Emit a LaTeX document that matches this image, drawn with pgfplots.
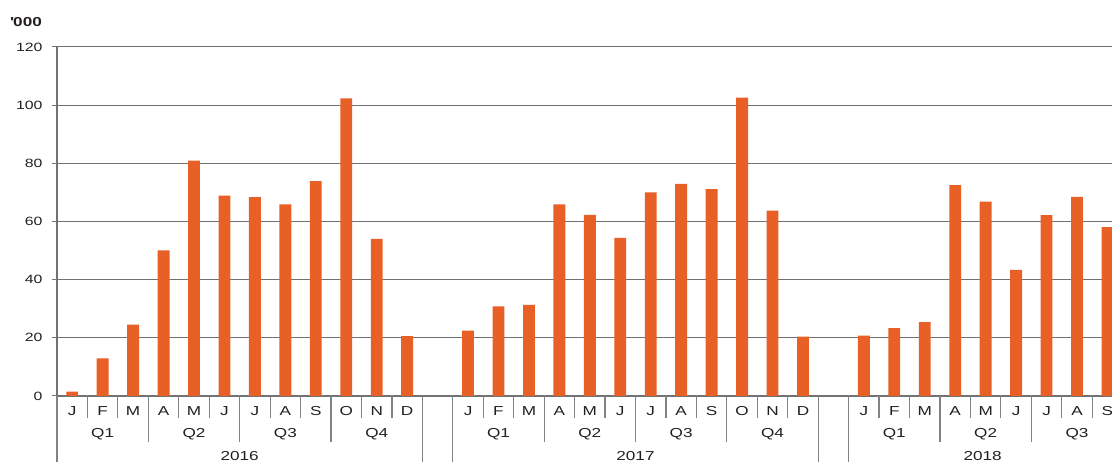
\documentclass[border=0pt]{standalone}
\usepackage{fontspec}
\setmainfont{Liberation Sans}[FakeStretch=1.32]
\usepackage{pgfplots}
\pgfplotsset{compat=1.18}
\definecolor{barorange}{RGB}{232,96,38}
\definecolor{gridgray}{RGB}{112,114,117}
\definecolor{sepgray}{RGB}{128,130,133}
\definecolor{txt}{RGB}{35,31,32}
\pgfplotstableread{
x y
0 1.5
1 12.9
2 24.5
3 50.1
4 80.9
5 68.9
6 68.4
7 65.9
8 73.9
9 102.3
10 54.0
11 20.6
13 22.5
14 30.8
15 31.3
16 65.9
17 62.3
18 54.4
19 70.0
20 72.9
21 71.1
22 102.6
23 63.7
24 20.4
26 20.8
27 23.3
28 25.4
29 72.5
30 66.8
31 43.4
32 62.2
33 68.5
34 58.1
}\datatable
\begin{document}
\begin{tikzpicture}
\useasboundingbox (-57pt,-66pt) rectangle (1055pt,396pt);
\begin{axis}[
  scale only axis, width=1055pt, height=349pt,
  at={(0pt,0pt)}, anchor=south west,
  xmin=-0.5, xmax=34.15, ymin=0, ymax=120,
  axis x line*=bottom, axis y line*=left,
  x axis line style={gridgray, line width=2pt},
  y axis line style={gridgray, line width=2pt},
  xtick={0,1,2,3,4,5,6,7,8,9,10,11,13,14,15,16,17,18,19,20,21,22,23,24,26,27,28,29,30,31,32,33,34},
  xticklabels={J,F,M,A,M,J,J,A,S,O,N,D,J,F,M,A,M,J,J,A,S,O,N,D,J,F,M,A,M,J,J,A,S},
  x tick style={draw=none},
  xticklabel style={font=\fontsize{13}{13}\selectfont, text=txt, anchor=center, yshift=-15pt+\pgfkeysvalueof{/pgfplots/major tick length}},
  ytick={0,20,...,120},
  ymajorgrids, grid style={gridgray, line width=1pt},
  tick align=outside, major tick length=5pt,
  y tick style={gridgray, line width=1pt},
  yticklabel style={font=\fontsize{12}{12}\selectfont, text=txt, xshift=-6pt},
  /pgf/number format/assume math mode=true,
  clip=false,
]
\addplot[ybar, bar width=0.39, fill=barorange, draw=none] table[x=x, y=y] {\datatable};
\pgfplotsinvokeforeach{0.5,1.5,3.5,4.5,6.5,7.5,9.5,10.5,13.5,14.5,16.5,17.5,19.5,20.5,22.5,23.5,26.5,27.5,29.5,30.5,32.5,33.5}{
  \draw[sepgray, line width=1.2pt] (axis cs:#1,0) -- ([yshift=-22.5pt]axis cs:#1,0);
}
\pgfplotsinvokeforeach{2.5,5.5,8.5,15.5,18.5,21.5,28.5,31.5}{
  \draw[sepgray, line width=1.2pt] (axis cs:#1,0) -- ([yshift=-46pt]axis cs:#1,0);
}
\pgfplotsinvokeforeach{-0.5,11.5,12.5,24.5,25.5}{
  \draw[sepgray, line width=1.2pt] (axis cs:#1,0) -- ([yshift=-70pt]axis cs:#1,0);
}
\begin{scope}[every node/.style={font=\fontsize{13}{13}\selectfont, text=txt, anchor=center}]
\node at ([yshift=-38pt]axis cs:1,0) {Q1};
\node at ([yshift=-38pt]axis cs:4,0) {Q2};
\node at ([yshift=-38pt]axis cs:7,0) {Q3};
\node at ([yshift=-38pt]axis cs:10,0) {Q4};
\node at ([yshift=-38pt]axis cs:14,0) {Q1};
\node at ([yshift=-38pt]axis cs:17,0) {Q2};
\node at ([yshift=-38pt]axis cs:20,0) {Q3};
\node at ([yshift=-38pt]axis cs:23,0) {Q4};
\node at ([yshift=-38pt]axis cs:27,0) {Q1};
\node at ([yshift=-38pt]axis cs:30,0) {Q2};
\node at ([yshift=-38pt]axis cs:33,0) {Q3};
\end{scope}
\begin{scope}[every node/.style={font=\fontsize{13}{13}\selectfont, text=txt, anchor=base, inner sep=0pt}]
\node at ([yshift=-64.5pt]axis cs:5.5,0) {2016};
\node at ([yshift=-64.5pt]axis cs:18.5,0) {2017};
\node at ([yshift=-64.5pt]axis cs:29.9,0) {2018};
\end{scope}
\end{axis}
\node[font=\fontsize{13}{13}\selectfont\bfseries, text=txt, anchor=center] at (-31pt,374pt) {\textquotesingle000};
\end{tikzpicture}
\end{document}
